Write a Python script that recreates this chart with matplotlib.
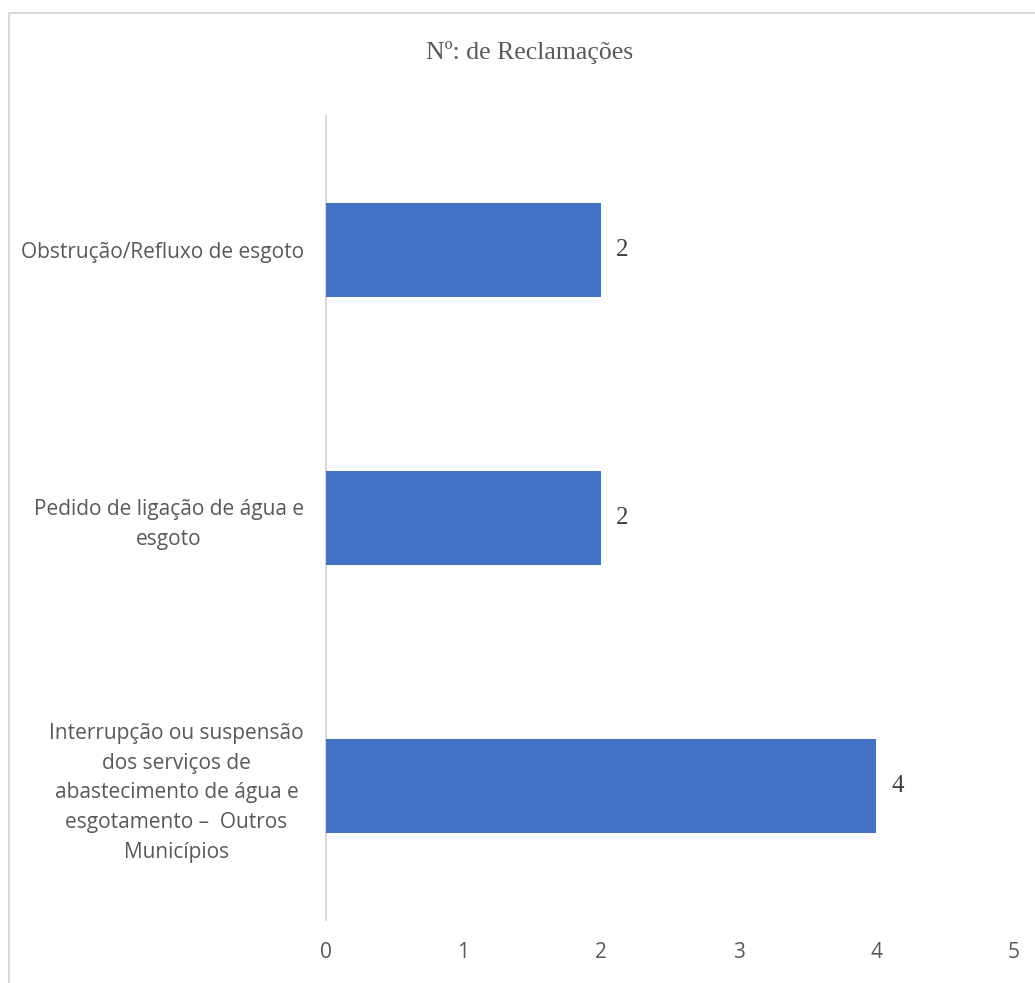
import matplotlib
matplotlib.use("Agg")
import matplotlib.pyplot as plt
from matplotlib.patches import Rectangle

# complaint categories (bottom to top) and counts
categories = [
    "Interrupção ou suspensão\ndos serviços de\nabastecimento de água e\nesgotamento –  Outros\nMunicípios",
    "Pedido de ligação de água e\nesgoto",
    "Obstrução/Refluxo de esgoto",
]
counts = [4, 2, 2]
xticks = [0, 1, 2, 3, 4, 5]

BAR = "#4472C4"
GREY = "#595959"

fig = plt.figure(figsize=(10.35, 9.83), dpi=100)
W, H = 1035, 983

# light chart-area frame
fig.patches.append(Rectangle((9 / W, -0.1), 1.2, 1 - 13 / H + 0.1,
                             transform=fig.transFigure, fill=False,
                             edgecolor="#D9D9D9", linewidth=1.5))

ax = fig.add_axes([326 / W, 1 - 920 / H, (1013.75 - 326) / W, (920 - 116) / H])
y = range(len(categories))
bars = ax.barh(y, counts, height=0.35, color=BAR, zorder=3)

ax.set_xlim(0, 5)
ax.set_ylim(-0.5, len(categories) - 0.5)
ax.set_xticks(xticks)
ax.set_xticklabels([str(t) for t in xticks], fontfamily="Open Sans",
                   fontsize=15, color=GREY)
ax.set_yticks(list(y))
ax.set_yticklabels(categories, fontfamily="Open Sans", fontsize=15,
                   color=GREY, multialignment="center", linespacing=1.55)
ax.tick_params(axis="both", length=0)
ax.tick_params(axis="y", pad=16)
ax.tick_params(axis="x", pad=16)

for s in ["top", "right", "bottom"]:
    ax.spines[s].set_visible(False)
ax.spines["left"].set_color("#D9D9D9")
ax.spines["left"].set_linewidth(1.5)

for b, v in zip(bars, counts):
    ax.text(v + 0.11, b.get_y() + b.get_height() / 2, str(v),
            ha="left", va="center", fontfamily="Liberation Serif",
            fontsize=18, color="#404040")

fig.text(530 / W, 1 - 53 / H, "Nº: de Reclamações", ha="center",
         va="center", fontfamily="Liberation Serif", fontsize=18.5,
         color=GREY)

fig.savefig("out.png", dpi=100)
